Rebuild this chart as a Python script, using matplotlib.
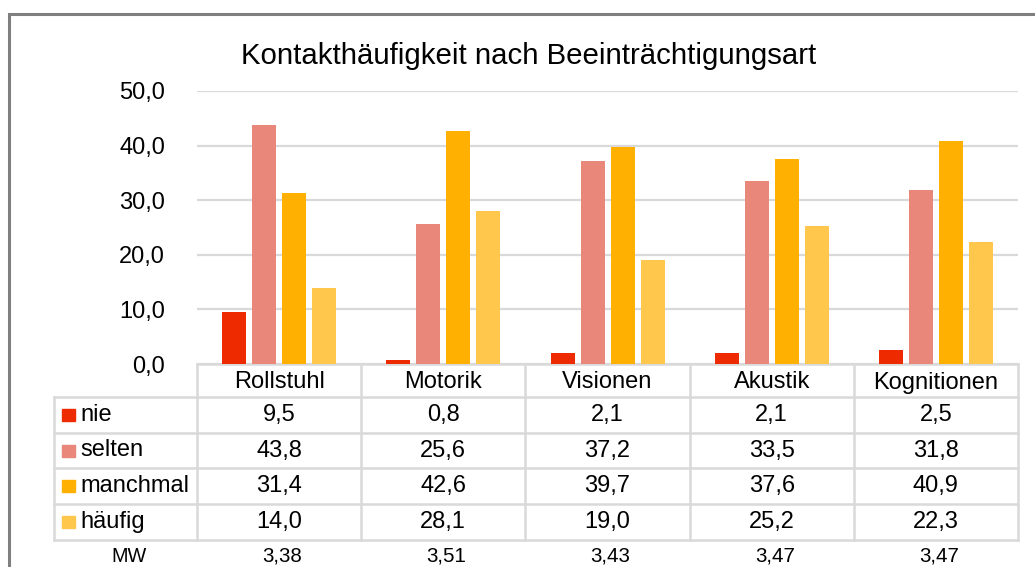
import matplotlib
matplotlib.use("Agg")
import matplotlib.pyplot as plt
import matplotlib.transforms as mtransforms
from matplotlib.patches import Rectangle
import numpy as np

plt.rcParams['font.family'] = ['Liberation Sans', 'DejaVu Sans']

title = "Kontakthäufigkeit nach Beeinträchtigungsart"
categories = ["Rollstuhl", "Motorik", "Visionen", "Akustik", "Kognitionen"]
series_names = ["nie", "selten", "manchmal", "häufig"]
nie = [9.5, 0.8, 2.1, 2.1, 2.5]
selten = [43.8, 25.6, 37.2, 33.5, 31.8]
manchmal = [31.4, 42.6, 39.7, 37.6, 40.9]
haeufig = [14.0, 28.1, 19.0, 25.2, 22.3]
mw = ["3,38", "3,51", "3,43", "3,47", "3,47"]
yticks = [0, 10, 20, 30, 40, 50]

colors = ["#EE2A00", "#E8877A", "#FFB000", "#FFC84C"]
series = [nie, selten, manchmal, haeufig]

W, H = 1035, 567
fig = plt.figure(figsize=(W / 100, H / 100), dpi=100)

def fx(px):
    return px / W

def fy(py):
    return 1 - py / H

ax_l, ax_r, ax_t, ax_b = 197, 1018, 91, 364
ax = fig.add_axes([fx(ax_l), fy(ax_b), fx(ax_r - ax_l), fy(ax_t) - fy(ax_b)])
ax.set_xlim(-0.5, len(categories) - 0.5)
ax.set_ylim(0, 50)

cat_w_px = (ax_r - ax_l) / len(categories)
step = 30 / cat_w_px
bw = 24 / cat_w_px
x = np.arange(len(categories))
for i, (vals, c) in enumerate(zip(series, colors)):
    ax.bar(x + (i - 1.5) * step, vals, width=bw, color=c, zorder=3)

ax.set_yticks(yticks)
ax.set_yticklabels([f"{v:.1f}".replace(".", ",") for v in yticks], fontsize=17)
ax.tick_params(axis='y', length=0, pad=23)
ax.set_xticks([])
ax.grid(axis='y', color='#D9D9D9', linewidth=1.6, zorder=0)
for s in ax.spines.values():
    s.set_visible(False)

# title
fig.text(fx(529), fy(56), title, ha='center', va='center', fontsize=21.2)

# outer border
fig.patches.append(Rectangle((fx(9), fy(600)), fx(1100), fy(14) - fy(600),
                             transform=fig.transFigure, fill=False,
                             edgecolor='#7F7F7F', linewidth=2.2))

# data table
tr = mtransforms.blended_transform_factory(ax.transData, fig.transFigure)
lc = '#D9D9D9'
lw = 1.8
row_y = [364, 397, 433, 468, 504, 540]
left_x = -0.5 - (ax_l - 54) / cat_w_px
xmin, xmax = -0.5, len(categories) - 0.5

# horizontal lines
ax.plot([xmin, xmax], [fy(row_y[0])] * 2, transform=tr, color=lc, lw=lw, clip_on=False)
for yy in row_y[1:]:
    ax.plot([left_x, xmax], [fy(yy)] * 2, transform=tr, color=lc, lw=lw, clip_on=False)
# vertical lines
ax.plot([left_x, left_x], [fy(row_y[1]), fy(row_y[-1])], transform=tr, color=lc, lw=lw, clip_on=False)
for k in range(len(categories) + 1):
    xv = -0.5 + k
    ax.plot([xv, xv], [fy(row_y[0]), fy(row_y[-1])], transform=tr, color=lc, lw=lw, clip_on=False)

# header
for k, cat in enumerate(categories):
    ax.text(k, fy((row_y[0] + row_y[1]) / 2 + 2), cat, transform=tr, ha='center', va='center',
            fontsize=17, clip_on=False)

# rows
sq_w = 13 / cat_w_px
for r, (name, vals, c) in enumerate(zip(series_names, series, colors)):
    yc = (row_y[r + 1] + row_y[r + 2]) / 2
    ax.add_patch(Rectangle((left_x + 8 / cat_w_px, fy(yc + 6)), sq_w, fy(yc - 6) - fy(yc + 6),
                           transform=tr, color=c, clip_on=False))
    ax.text(left_x + 26 / cat_w_px, fy(yc), name, transform=tr, ha='left', va='center',
            fontsize=17, clip_on=False)
    for k, v in enumerate(vals):
        ax.text(k, fy(yc), f"{v:.1f}".replace(".", ","), transform=tr, ha='center',
                va='center', fontsize=17, clip_on=False)

# MW row
ax.text(left_x + (129 - 54) / cat_w_px, fy(556), "MW", transform=tr, ha='center', va='center',
        fontsize=14.3, clip_on=False)
for k, m in enumerate(mw):
    ax.text(k + 3 / cat_w_px, fy(556), m, transform=tr, ha='center', va='center',
            fontsize=14.8, clip_on=False)

fig.savefig("out.png", dpi=100)
